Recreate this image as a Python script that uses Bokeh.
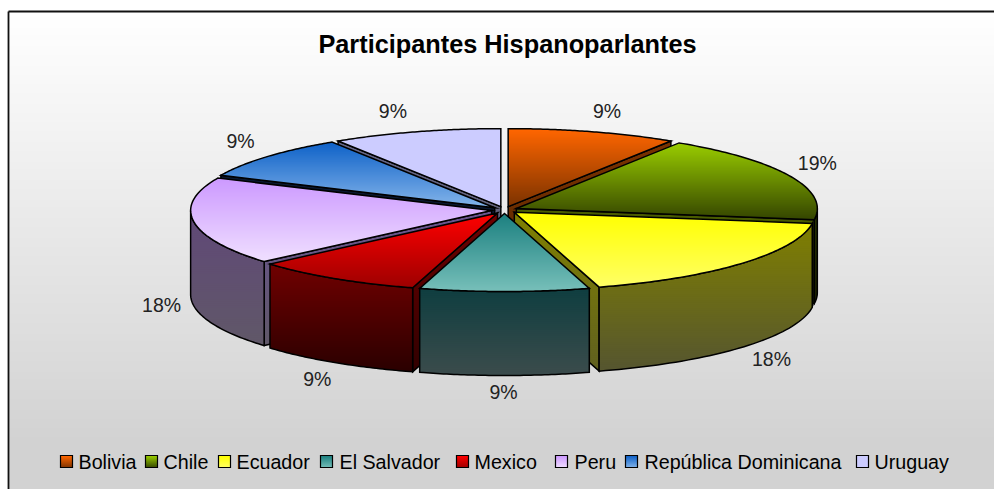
import numpy as np
from bokeh.plotting import figure
from bokeh.models import Range1d, ColumnDataSource
from bokeh.core.properties import value
from bokeh.embed import file_html
from bokeh.resources import INLINE

title = "Participantes Hispanoparlantes"
categories = ["Bolivia", "Chile", "Ecuador", "El Salvador", "Mexico", "Peru", "República Dominicana", "Uruguay"]
participants = [1, 2, 2, 1, 1, 2, 1, 1]
percent_labels = ["9%", "19%", "18%", "9%", "9%", "18%", "9%", "9%"]

# styles: top gradient, wall gradient, cut-face gradient
top_colors = [("#FF6600", "#7A3200"), ("#99CC00", "#344400"), ("#FFFF00", "#FFFF66"), ("#1C8080", "#78C0BA"),
              ("#FF0000", "#9C0000"), ("#CC99FF", "#F0E0FF"), ("#0F62C8", "#85B5EA"), ("#CCCCFF", "#CCCCFF")]
wall_colors = [("#7A3200", "#4A2A10"), ("#263300", "#1A2000"), ("#808000", "#555530"), ("#0F3E40", "#3C4C4C"),
               ("#700000", "#2A0000"), ("#604878", "#605868"), ("#0A3060", "#304060"), ("#606080", "#606070")]
face_colors = [("#7A3200", "#5A2800"), ("#4C6000", "#2A3300"), ("#808000", "#606020"), ("#0F3E40", "#3C4C4C"),
               ("#700000", "#300000"), ("#6A5590", "#605868"), ("#0A1830", "#0A1830"), ("#666688", "#606070")]

# layout (page pixels)
W, H = 994, 489
CX, CY, RX, RY, DEPTH, EXPLODE, EXPLODE_Y = 504, 209.5, 301, 78, 84, 13, 3.5
LAB_A, LAB_B = 350, 105
label_nudge = [(4, 2), (-5.5, -3), (2.5, -4), (-1, -7.5), (2, -3), (3.5, -3.5), (0.5, -0.7), (-13, 2)]
legend_swatch_x = [60, 145, 218, 320, 456, 555, 625, 856]
legend_text_x = [78, 163, 236, 339, 474, 574, 644, 874]
LEG_Y = 461


def hex2rgb(c):
    return np.array([int(c[i:i + 2], 16) for i in (1, 3, 5)], float)


def mix(c0, c1, t):
    r = hex2rgb(c0) * (1 - t) + hex2rgb(c1) * t
    return "#%02x%02x%02x" % tuple(int(round(v)) for v in r)


def clip(poly, y0, y1):
    def half(pts, keep, cross):
        out = []
        for i in range(len(pts)):
            a, b = pts[i], pts[(i + 1) % len(pts)]
            ka, kb = keep(a), keep(b)
            if ka:
                out.append(a)
            if ka != kb:
                t = (cross - a[1]) / (b[1] - a[1])
                out.append((a[0] + t * (b[0] - a[0]), cross))
        return out
    pts = half(poly, lambda p: p[1] >= y0, y0)
    if pts:
        pts = half(pts, lambda p: p[1] <= y1, y1)
    return pts


xs, ys, fills, lines, widths, alphas = [], [], [], [], [], []


def add(poly, fill, line, width, alpha):
    xs.append([p[0] for p in poly])
    ys.append([p[1] for p in poly])
    fills.append(fill)
    lines.append(line)
    widths.append(width)
    alphas.append(alpha)


def gradient_poly(poly, c0, c1, outline=True, lw=1.5):
    yy = [p[1] for p in poly]
    lo, hi = min(yy), max(yy)
    if hi - lo < 1e-6:
        return
    y = np.floor(lo)
    while y < hi:
        part = clip(poly, y, y + 3)  # bands overlap the next one, which paints over the seam
        if len(part) >= 3:
            c = mix(c0, c1, float(np.clip((y + .5 - lo) / (hi - lo), 0, 1)))
            add(part, c, c, 0, 1)
        y += 2
    if outline:
        add(poly, "#000000", "#000000", lw, 0)


shares = np.array(participants, float) / sum(participants) * 360
ends = np.cumsum(shares)
starts = ends - shares
mids = (starts + ends) / 2


def pt(ox, oy, th, dz=0):
    r = np.radians(th)
    return (ox + RX * np.sin(r), oy - RY * np.cos(r) + dz)


def draw_slice(i):
    s, e, m = starts[i], ends[i], mids[i]
    ox = CX + EXPLODE * np.sin(np.radians(m))
    oy = CY - EXPLODE_Y * np.cos(np.radians(m))
    tip, tipb = (ox, oy), (ox, oy + DEPTH)
    if np.sin(np.radians(s)) < -1e-6:
        gradient_poly([tip, pt(ox, oy, s), pt(ox, oy, s, DEPTH), tipb], *face_colors[i])
    if np.sin(np.radians(e)) > 1e-6:
        gradient_poly([tip, pt(ox, oy, e), pt(ox, oy, e, DEPTH), tipb], *face_colors[i])
    a0, a1 = max(s, 90), min(e, 270)
    if a1 > a0:
        arc = np.linspace(a0, a1, 50)
        wall = [pt(ox, oy, t) for t in arc] + [pt(ox, oy, t, DEPTH) for t in arc[::-1]]
        gradient_poly(wall, *wall_colors[i])
    top = [tip] + [pt(ox, oy, t) for t in np.linspace(s, e, 70)]
    gradient_poly(top, *top_colors[i])


p = figure(width=W, height=H, output_backend="svg", toolbar_location=None,
           x_range=Range1d(0, W), y_range=Range1d(H, 0),
           min_border=0, outline_line_color=None, background_fill_color="white", border_fill_color="white")
p.axis.visible = False
p.grid.visible = False

# chart-area background
FR_L, FR_T = 8, 11
band_edges = np.arange(FR_T, H + 2, 2.0)
p.quad(left=FR_L, right=W, top=band_edges[:-1], bottom=np.minimum(band_edges[1:] + 1, H),
       fill_color=[mix("#FFFFFF", "#D2D2D2", min(1, (y - FR_T) / 430)) for y in band_edges[:-1]],
       line_color=None)
p.segment(x0=[FR_L, FR_L], y0=[FR_T, FR_T], x1=[W, FR_L], y1=[FR_T, H],
          line_color="#111111", line_width=1.8)

for i in [7, 0, 6, 1, 5, 2, 4, 3]:
    draw_slice(i)

# legend swatches
for i, sx in enumerate(legend_swatch_x):
    sq = [(sx, LEG_Y - 6), (sx + 12, LEG_Y - 6), (sx + 12, LEG_Y + 6), (sx, LEG_Y + 6)]
    gradient_poly(sq, top_colors[i][0], top_colors[i][1], lw=1.2)

p.patches("xs", "ys", source=ColumnDataSource(dict(xs=xs, ys=ys, f=fills, l=lines, w=widths, a=alphas)),
          fill_color="f", line_color="l", line_width="w", fill_alpha="a", line_join="miter")

font = value("Liberation Sans")
p.text(x=[507], y=[43], text=[title], text_font=font, text_font_style="bold", text_font_size="25.3px",
       text_align="center", text_baseline="middle", text_color="#000000")

lab_x, lab_y = [], []
for i, m in enumerate(mids):
    r = np.radians(m)
    lab_x.append(CX + LAB_A * np.sin(r) + label_nudge[i][0])
    lab_y.append(CY - LAB_B * np.cos(r) + (DEPTH if np.cos(r) < 0 else 0) + label_nudge[i][1])
p.text(x=lab_x, y=lab_y, text=percent_labels, text_font=font, text_font_size="19.5px",
       text_align="center", text_baseline="middle", text_color="#222222")

p.text(x=legend_text_x, y=[LEG_Y] * len(categories), text=categories, text_font=font, text_font_size="19.7px",
       text_align="left", text_baseline="middle", text_color="#000000")

open("out.html", "w").write(file_html(p, INLINE))
